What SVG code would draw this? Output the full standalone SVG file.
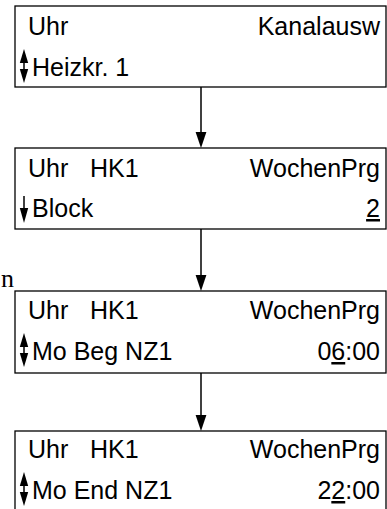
<svg xmlns="http://www.w3.org/2000/svg" width="387" height="509" viewBox="0 0 387 509">
<style>
  .box{fill:#fff;stroke:#000;stroke-width:1.3}
  .t{font-family:"Liberation Sans",Arial,sans-serif;font-size:25px;fill:#000}
  .r{text-anchor:end}
  .conn{stroke:#000;stroke-width:1.5;fill:none}
</style>
<defs>
  <g id="updown">
    <line x1="0" y1="4" x2="0" y2="30" stroke="#000" stroke-width="1.5"/>
    <path d="M-4.2,14 L4.2,14 L0,0 Z" fill="#000"/>
    <path d="M-4.2,20 L4.2,20 L0,34 Z" fill="#000"/>
  </g>
</defs>
<rect width="387" height="509" fill="#fff"/>
<text x="1" y="287" style="font-family:'Liberation Serif','Times New Roman',serif;font-size:26px">n</text>
<g id="connectors">
  <line class="conn" x1="201" y1="87" x2="201" y2="134"/>
  <path d="M195.6,132 L206.4,132 L201,148 Z" fill="#000"/>
  <line class="conn" x1="201" y1="229" x2="201" y2="277"/>
  <path d="M195.6,275 L206.4,275 L201,291 Z" fill="#000"/>
  <line class="conn" x1="201" y1="373" x2="201" y2="417"/>
  <path d="M195.6,415 L206.4,415 L201,431 Z" fill="#000"/>
</g>
<g id="node1">
  <rect class="box" x="15" y="6" width="371" height="81"/>
  <text class="t" x="28" y="35">Uhr</text>
  <text class="t r" x="380" y="35">Kanalausw</text>
  <use href="#updown" x="24" y="49"/>
  <text class="t" x="32" y="76">Heizkr. 1</text>
</g>
<g id="node2">
  <rect class="box" x="15" y="148" width="371" height="81"/>
  <text class="t" x="28" y="177">Uhr</text>
  <text class="t" x="90" y="177">HK1</text>
  <text class="t r" x="380" y="177">WochenPrg</text>
  <line x1="24" y1="196" x2="24" y2="210" stroke="#000" stroke-width="1.5"/>
  <path d="M19.8,208 L28.2,208 L24,223 Z" fill="#000"/>
  <text class="t" x="32" y="217">Block</text>
  <text class="t r" x="380" y="217"><tspan text-decoration="underline">2</tspan></text>
</g>
<g id="node3">
  <rect class="box" x="15" y="291" width="371" height="82"/>
  <text class="t" x="28" y="319">Uhr</text>
  <text class="t" x="90" y="319">HK1</text>
  <text class="t r" x="380" y="319">WochenPrg</text>
  <use href="#updown" x="24" y="333"/>
  <text class="t" x="32" y="360">Mo Beg NZ1</text>
  <text class="t r" x="380" y="360">0<tspan text-decoration="underline">6</tspan>:00</text>
</g>
<g id="node4">
  <rect class="box" x="15" y="431" width="371" height="82"/>
  <text class="t" x="28" y="458">Uhr</text>
  <text class="t" x="90" y="458">HK1</text>
  <text class="t r" x="380" y="458">WochenPrg</text>
  <use href="#updown" x="24" y="472"/>
  <text class="t" x="32" y="499">Mo End NZ1</text>
  <text class="t r" x="380" y="499">2<tspan text-decoration="underline">2</tspan>:00</text>
</g>
</svg>
